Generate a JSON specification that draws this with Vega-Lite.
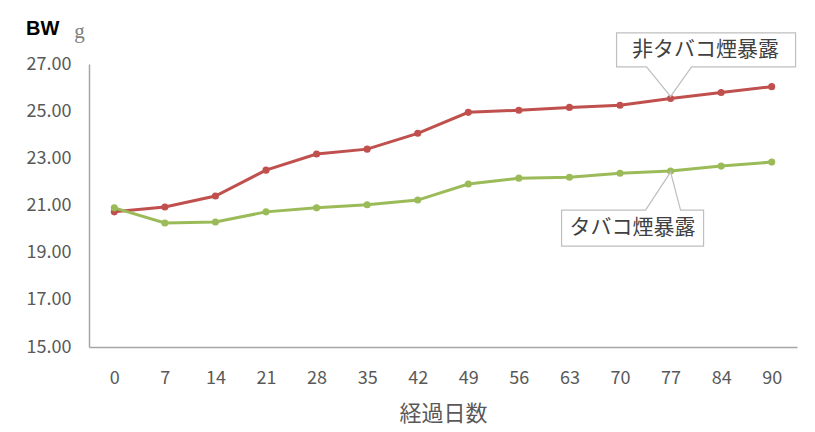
{
  "$schema": "https://vega.github.io/schema/vega-lite/v6.json",
  "width": 708,
  "height": 283,
  "autosize": {"type": "none"},
  "padding": {"left": 89, "top": 64, "right": 18, "bottom": 85},
  "background": "white",
  "title": {
    "text": "BW",
    "anchor": "start",
    "frame": "bounds",
    "font": "Liberation Sans",
    "fontSize": 20,
    "fontWeight": "bold",
    "color": "#000000",
    "offset": 0,
    "dy": 19
  },
  "datasets": {
    "bw": [
      {"day": 0, "group": "非タバコ煙暴露", "bw": 20.73},
      {"day": 7, "group": "非タバコ煙暴露", "bw": 20.94},
      {"day": 14, "group": "非タバコ煙暴露", "bw": 21.40},
      {"day": 21, "group": "非タバコ煙暴露", "bw": 22.50},
      {"day": 28, "group": "非タバコ煙暴露", "bw": 23.18},
      {"day": 35, "group": "非タバコ煙暴露", "bw": 23.39},
      {"day": 42, "group": "非タバコ煙暴露", "bw": 24.06},
      {"day": 49, "group": "非タバコ煙暴露", "bw": 24.95},
      {"day": 56, "group": "非タバコ煙暴露", "bw": 25.04},
      {"day": 63, "group": "非タバコ煙暴露", "bw": 25.16},
      {"day": 70, "group": "非タバコ煙暴露", "bw": 25.25},
      {"day": 77, "group": "非タバコ煙暴露", "bw": 25.54},
      {"day": 84, "group": "非タバコ煙暴露", "bw": 25.79},
      {"day": 90, "group": "非タバコ煙暴露", "bw": 26.04},
      {"day": 0, "group": "タバコ煙暴露", "bw": 20.90},
      {"day": 7, "group": "タバコ煙暴露", "bw": 20.26},
      {"day": 14, "group": "タバコ煙暴露", "bw": 20.30},
      {"day": 21, "group": "タバコ煙暴露", "bw": 20.73},
      {"day": 28, "group": "タバコ煙暴露", "bw": 20.90},
      {"day": 35, "group": "タバコ煙暴露", "bw": 21.03},
      {"day": 42, "group": "タバコ煙暴露", "bw": 21.23},
      {"day": 49, "group": "タバコ煙暴露", "bw": 21.91},
      {"day": 56, "group": "タバコ煙暴露", "bw": 22.16},
      {"day": 63, "group": "タバコ煙暴露", "bw": 22.20},
      {"day": 70, "group": "タバコ煙暴露", "bw": 22.37},
      {"day": 77, "group": "タバコ煙暴露", "bw": 22.46},
      {"day": 84, "group": "タバコ煙暴露", "bw": 22.67},
      {"day": 90, "group": "タバコ煙暴露", "bw": 22.84}
    ]
  },
  "encoding": {
    "x": {
      "field": "day",
      "type": "ordinal",
      "scale": {"type": "point", "padding": 0.5},
      "axis": {
        "title": "経過日数",
        "labelAngle": 0,
        "labelPadding": 22,
        "titleY": 66,
        "titleBaseline": "middle",
        "titleFontSize": 22
      }
    },
    "y": {
      "field": "bw",
      "type": "quantitative",
      "scale": {"domain": [15, 27], "nice": false, "zero": false},
      "axis": {
        "values": [15, 17, 19, 21, 23, 25, 27],
        "format": ".2f",
        "labelPadding": 18,
        "title": "g",
        "titleAngle": 0,
        "titleX": -10,
        "titleY": -33,
        "titleAlign": "center",
        "titleBaseline": "middle",
        "titleFont": "Liberation Serif",
        "titleFontSize": 21,
        "titleColor": "#808080"
      }
    }
  },
  "layer": [
    {
      "data": {"name": "bw"},
      "mark": {"type": "line", "strokeWidth": 3, "point": {"filled": true, "size": 50}},
      "encoding": {
        "color": {
          "field": "group",
          "type": "nominal",
          "scale": {"domain": ["非タバコ煙暴露", "タバコ煙暴露"], "range": ["#c0504d", "#9bbb59"]},
          "legend": null
        }
      }
    },
    {
      "data": {"values": [{"day": 77, "bw": 25.54, "label": "非タバコ煙暴露"}]},
      "layer": [
        {
          "mark": {
            "type": "point",
            "shape": "M-0.54,-0.655H1.25V-0.315H0.21L0,-0.02L-0.24,-0.315H-0.54Z",
            "size": 40000,
            "fill": "white",
            "fillOpacity": 1,
            "stroke": "#bfbfbf",
            "strokeWidth": 1.2,
            "opacity": 1
          }
        },
        {
          "mark": {
            "type": "text",
            "dx": 35,
            "dy": -48,
            "align": "center",
            "baseline": "middle",
            "font": "Noto Sans CJK JP",
            "fontSize": 21,
            "color": "#404040"
          },
          "encoding": {"text": {"field": "label"}}
        }
      ]
    },
    {
      "data": {"values": [{"day": 77, "bw": 22.46, "label": "タバコ煙暴露"}]},
      "layer": [
        {
          "mark": {
            "type": "point",
            "shape": "M-1.09,0.39H-0.25L0,0.01L0.1,0.39H0.33V0.75H-1.09Z",
            "size": 40000,
            "fill": "white",
            "fillOpacity": 1,
            "stroke": "#bfbfbf",
            "strokeWidth": 1.2,
            "opacity": 1
          }
        },
        {
          "mark": {
            "type": "text",
            "dx": -38,
            "dy": 57,
            "align": "center",
            "baseline": "middle",
            "font": "Noto Sans CJK JP",
            "fontSize": 21,
            "color": "#404040"
          },
          "encoding": {"text": {"field": "label"}}
        }
      ]
    }
  ],
  "config": {
    "view": {"stroke": null},
    "axis": {
      "domainColor": "#a6a6a6",
      "domainWidth": 1.5,
      "ticks": false,
      "tickSize": 0,
      "grid": false,
      "labelColor": "#595959",
      "labelFont": "Noto Sans CJK JP",
      "labelFontSize": 18,
      "titleColor": "#595959",
      "titleFont": "Noto Sans CJK JP",
      "titleFontWeight": "normal"
    }
  }
}
